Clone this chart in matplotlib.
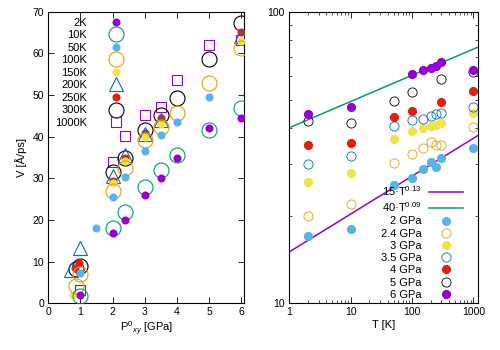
import numpy as np
import matplotlib.pyplot as plt
from matplotlib.ticker import LogLocator, NullFormatter

plt.rcParams['font.family'] = ['Liberation Sans', 'DejaVu Sans']
plt.rcParams['mathtext.fontset'] = 'custom'
plt.rcParams['mathtext.rm'] = 'Liberation Sans'
plt.rcParams['mathtext.it'] = 'Liberation Sans:italic'

nan = np.nan

temps = [2, 10, 50, 100, 150, 200, 250, 300, 1000]
temp_labels = ['2K', '10K', '50K', '100K', '150K', '200K', '250K', '300K', '1000K']
press = [2, 2.4, 3, 3.5, 4, 5, 6]
press_labels = ['2 GPa', '2.4 GPa', '3 GPa', '3.5 GPa', '4 GPa', '5 GPa', '6 GPa']

# V [A/ps] for each pressure, one value per temperature
v_2 = [17.0, 18.0, 25.5, 27.0, 28.9, 30.5, 29.4, 31.5, 34.0]
v_24 = [20.0, 21.9, 30.4, 32.5, 34.2, 35.7, 35.0, 34.8, 40.1]
v_3 = [26.0, 28.0, 36.5, 39.1, 39.9, 40.6, 41.0, 41.6, 45.1]
v_35 = [30.0, 31.9, 40.5, 42.4, 43.0, 44.0, 44.5, 45.1, 47.1]
v_4 = [35.0, 35.6, 43.5, 45.6, nan, nan, nan, 49.2, 53.5]
v_5 = [42.1, 41.6, 49.6, 53.0, nan, nan, nan, 58.6, 61.9]
v_6 = [44.6, 47.0, nan, 61.3, 63.0, 64.1, 65.1, 67.4, 63.1]
v_table = np.array([v_2, v_24, v_3, v_35, v_4, v_5, v_6])

# low pressure runs (only on the left panel), per temperature
low_p = [[0.98], [0.98], [1.0, 1.48], [0.87, 1.0], [0.77], [0.7, 0.98], [0.83, 0.95], [0.85, 0.98], [0.98]]
low_v = [[2.0], [1.8], [7.3, 18.0], [4.2, 7.0], [2.0], [8.0, 13.2], [8.5, 9.7], [8.3, 9.0], [3.1]]

purple = '#9400d3'
teal = '#009e73'
sky = '#56b4e9'
orange = '#e69f00'
yellow = '#f0e442'
blue = '#0072b2'
red = '#e51e10'

t_colors = [purple, teal, sky, orange, yellow, blue, red, 'black', purple]
t_markers = ['o', 'o', 'o', 'o', 'o', '^', 'o', 'o', 's']
t_filled = [True, False, True, False, True, False, True, False, False]
t_sizes = [5.8, 10.8, 5.8, 10.8, 5.8, 9.5, 5.8, 10.8, 6.5]

p_colors = [sky, orange, yellow, blue, red, 'black', purple]
p_filled = [True, False, True, False, True, False, True]

fig = plt.figure(figsize=(5, 3.5), dpi=100)
ax1 = fig.add_axes([0.0966, 0.1334, 0.392, 0.833])
ax2 = fig.add_axes([0.5784, 0.1334, 0.3782, 0.833])

fs = 8

# left panel: V vs P for each temperature
handles = []
for j in range(len(temps)):
    pp = np.concatenate([low_p[j], press])
    vv = np.concatenate([low_v[j], v_table[:, j]])
    c = t_colors[j]
    if t_filled[j]:
        kw = dict(color=c, markerfacecolor=c, markeredgecolor=c, markeredgewidth=0)
    else:
        kw = dict(color=c, markerfacecolor='none', markeredgecolor=c, markeredgewidth=0.8)
    h, = ax1.plot(pp, vv, linestyle='none', marker=t_markers[j], markersize=t_sizes[j],
                  zorder=20 - j, label=temp_labels[j], **kw)
    handles.append(h)

ax1.set_xlim(0, 6.1)
ax1.set_ylim(0, 70)
ax1.set_xticks(range(0, 7))
ax1.set_yticks(range(0, 71, 10))
ax1.set_xlabel('P$^{0}{}_{xy}$ [GPa]', fontsize=fs, labelpad=2)
ax1.set_ylabel('V [Å/ps]', fontsize=fs, labelpad=4)
ax1.legend(handles=handles, loc='upper left', bbox_to_anchor=(0.035, 0.98), frameon=False,
           markerfirst=False, fontsize=fs, handlelength=3.9, handletextpad=0.65,
           labelspacing=0.23, borderpad=0, borderaxespad=0)

# right panel: V vs T for each pressure
t_fit = np.logspace(0, np.log10(1200), 60)
f1, = ax2.plot(t_fit, 15 * t_fit ** 0.13, color=purple, lw=1.1, label='15·T$^{0.13}$')
f2, = ax2.plot(t_fit, 40 * t_fit ** 0.09, color=teal, lw=1.1, label='40·T$^{0.09}$')
handles2 = [f1, f2]
for i in range(len(press)):
    c = p_colors[i]
    if p_filled[i]:
        kw = dict(markerfacecolor=c, markeredgecolor=c, markeredgewidth=0)
    else:
        kw = dict(markerfacecolor='none', markeredgecolor=c, markeredgewidth=0.6)
    h, = ax2.plot(temps, v_table[i], linestyle='none', marker='o', markersize=6.6,
                  color=c, label=press_labels[i], **kw)
    handles2.append(h)

ax2.set_xscale('log')
ax2.set_yscale('log')
ax2.set_xlim(1, 1200)
ax2.set_ylim(10, 100)
ax2.set_xticks([1, 10, 100, 1000])
ax2.set_xticklabels(['1', '10', '100', '1000'])
ax2.set_yticks([10, 100])
ax2.set_yticklabels(['10', '100'])
ax2.yaxis.set_minor_locator(LogLocator(base=10, subs=np.arange(2, 10)))
ax2.yaxis.set_minor_formatter(NullFormatter())
ax2.xaxis.set_minor_locator(LogLocator(base=10, subs=np.arange(2, 10)))
ax2.xaxis.set_minor_formatter(NullFormatter())
ax2.set_xlabel('T [K]', fontsize=fs, labelpad=2)
ax2.legend(handles=handles2, loc='lower left', bbox_to_anchor=(0.485, 0.012), frameon=False,
           markerfirst=False, fontsize=fs, handlelength=3.1, handletextpad=0.65,
           labelspacing=0.2, borderpad=0, borderaxespad=0)

for ax in (ax1, ax2):
    ax.tick_params(which='major', direction='in', top=True, right=True, length=4,
                   width=0.6, labelsize=7.5, pad=3)
    ax.tick_params(which='minor', direction='in', top=True, right=True, length=2, width=0.5)
    for s in ax.spines.values():
        s.set_linewidth(0.8)

fig.savefig('out.png', dpi=100)
